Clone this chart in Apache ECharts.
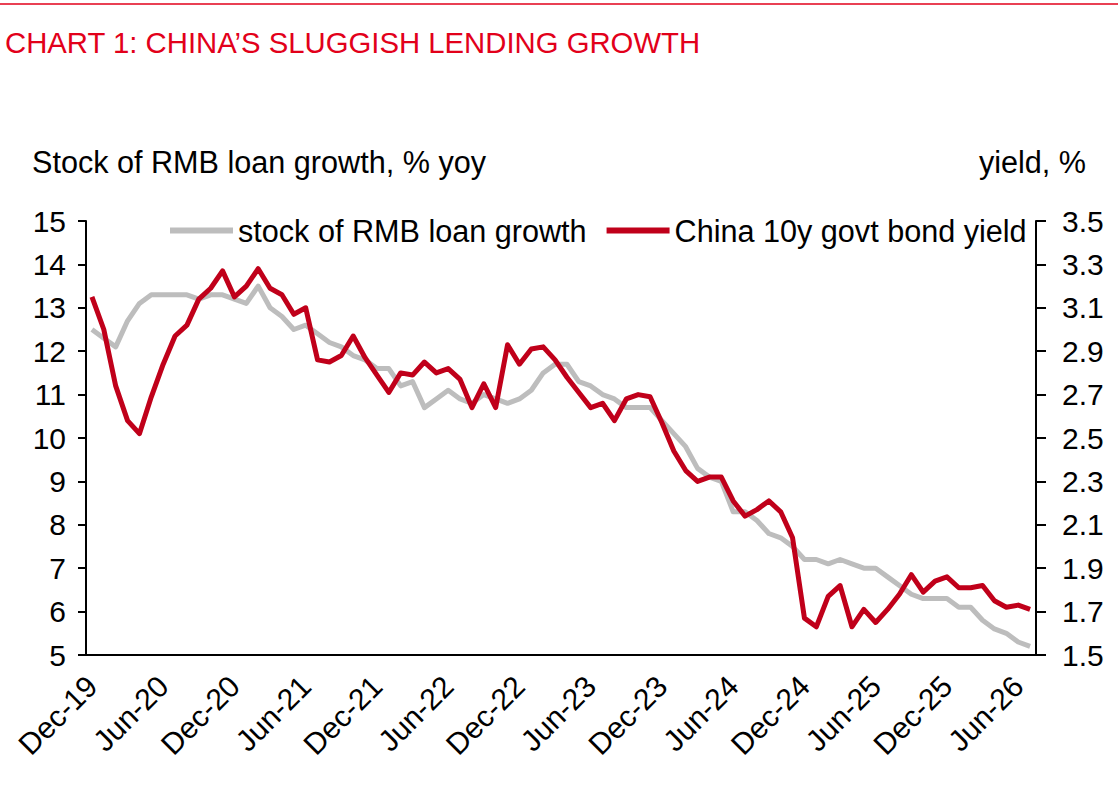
<!DOCTYPE html>
<html style="height: 100%">
  <head>
    <meta charset="utf-8">
  </head>
  <body style="height: 100%; margin: 0; background: #fff">
    <div id="container" style="width: 1118px; height: 795px;"></div>
    <script type="text/javascript" src="https://cdn.jsdelivr.net/npm/echarts@6/dist/echarts.min.js"></script>
    <script type="text/javascript">
    // months shown on the x axis (Dec-19 .. Jul-26)
    var months = ['Dec-19',
      'Jan-20','Feb-20','Mar-20','Apr-20','May-20','Jun-20','Jul-20','Aug-20','Sep-20','Oct-20','Nov-20','Dec-20',
      'Jan-21','Feb-21','Mar-21','Apr-21','May-21','Jun-21','Jul-21','Aug-21','Sep-21','Oct-21','Nov-21','Dec-21',
      'Jan-22','Feb-22','Mar-22','Apr-22','May-22','Jun-22','Jul-22','Aug-22','Sep-22','Oct-22','Nov-22','Dec-22',
      'Jan-23','Feb-23','Mar-23','Apr-23','May-23','Jun-23','Jul-23','Aug-23','Sep-23','Oct-23','Nov-23','Dec-23',
      'Jan-24','Feb-24','Mar-24','Apr-24','May-24','Jun-24','Jul-24','Aug-24','Sep-24','Oct-24','Nov-24','Dec-24',
      'Jan-25','Feb-25','Mar-25','Apr-25','May-25','Jun-25','Jul-25','Aug-25','Sep-25','Oct-25','Nov-25','Dec-25',
      'Jan-26','Feb-26','Mar-26','Apr-26','May-26','Jun-26','Jul-26'];

    // stock of RMB loan growth, % yoy (left axis)
    var loanGrowth = [12.5,
      12.3, 12.1, 12.7, 13.1, 13.3, 13.3, 13.3, 13.3, 13.2, 13.3, 13.3, 13.2,
      13.1, 13.5, 13.0, 12.8, 12.5, 12.6, 12.4, 12.2, 12.1, 11.9, 11.8, 11.6,
      11.6, 11.2, 11.3, 10.7, 10.9, 11.1, 10.9, 10.8, 11.0, 10.9, 10.8, 10.9,
      11.1, 11.5, 11.7, 11.7, 11.3, 11.2, 11.0, 10.9, 10.7, 10.7, 10.7, 10.4,
      10.1, 9.8, 9.3, 9.1, 9.0, 8.3, 8.3, 8.1, 7.8, 7.7, 7.5, 7.2,
      7.2, 7.1, 7.2, 7.1, 7.0, 7.0, 6.8, 6.6, 6.4, 6.3, 6.3, 6.3,
      6.1, 6.1, 5.8, 5.6, 5.5, 5.3, 5.2];

    // China 10y govt bond yield, % (right axis)
    var bondYield = [3.15,
      3.00, 2.74, 2.58, 2.52, 2.69, 2.84, 2.97, 3.02, 3.14, 3.19, 3.27, 3.15,
      3.20, 3.28, 3.19, 3.16, 3.07, 3.10, 2.86, 2.85, 2.88, 2.97, 2.87, 2.79,
      2.71, 2.80, 2.79, 2.85, 2.80, 2.82, 2.77, 2.64, 2.75, 2.64, 2.93, 2.84,
      2.91, 2.92, 2.86, 2.78, 2.71, 2.64, 2.66, 2.58, 2.68, 2.70, 2.69, 2.57,
      2.44, 2.35, 2.30, 2.32, 2.32, 2.21, 2.14, 2.17, 2.21, 2.16, 2.04, 1.67,
      1.63, 1.77, 1.82, 1.63, 1.71, 1.65, 1.71, 1.78, 1.87, 1.79, 1.84, 1.86,
      1.81, 1.81, 1.82, 1.75, 1.72, 1.73, 1.71];

    var font = 'Liberation Sans, Arial, sans-serif';
    var red = '#c0001a';
    var grey = '#bdbdbd';

    var myChart = echarts.init(document.getElementById('container'), null, {renderer: 'svg'});

    var option = {
      backgroundColor: '#fff',
      animation: false,
      textStyle: {fontFamily: font},
      title: {
        text: 'CHART 1: CHINA\u2019S SLUGGISH LENDING GROWTH',
        left: 0,
        top: 23,
        textStyle: {color: '#e2001a', fontSize: 29.3, fontWeight: 'normal', fontFamily: font}
      },
      graphic: [
        {type: 'line', shape: {x1: 0, y1: 4, x2: 1118, y2: 4}, style: {stroke: '#e2001a', lineWidth: 1.5}},
        {type: 'text', style: {text: 'Stock of RMB loan growth, % yoy', x: 32, y: 162,
          font: '30.6px ' + font, fill: '#000', textVerticalAlign: 'middle'}},
        {type: 'text', style: {text: 'yield, %', x: 1086, y: 162,
          font: '30.6px ' + font, fill: '#000', textAlign: 'right', textVerticalAlign: 'middle'}}
      ],
      legend: {
        left: 165,
        top: 210,
        itemWidth: 63,
        itemHeight: 6,
        itemGap: 20,
        textStyle: {fontSize: 30.6, color: '#000', fontFamily: font},
        data: [
          {name: 'stock of RMB loan growth', icon: 'rect'},
          {name: 'China 10y govt bond yield', icon: 'rect'}
        ]
      },
      grid: {left: 86, right: 82, top: 221, bottom: 140},
      xAxis: {
        type: 'category',
        data: months,
        boundaryGap: true,
        axisLine: {lineStyle: {color: '#000', width: 2}},
        axisTick: {interval: 5, length: 8, lineStyle: {color: '#000', width: 2}},
        axisLabel: {interval: 5, rotate: 45, fontSize: 30, color: '#000', margin: 26, fontFamily: font},
        splitLine: {show: false}
      },
      yAxis: [
        {
          type: 'value',
          min: 5,
          max: 15,
          interval: 1,
          axisLine: {show: true, lineStyle: {color: '#000', width: 2}},
          axisTick: {show: true, length: 8, lineStyle: {color: '#000', width: 2}},
          axisLabel: {fontSize: 30, color: '#000', margin: 20, fontFamily: font},
          splitLine: {show: false}
        },
        {
          type: 'value',
          position: 'right',
          min: 1.5,
          max: 3.5,
          interval: 0.2,
          axisLine: {show: true, lineStyle: {color: '#000', width: 2}},
          axisTick: {show: true, length: 10, lineStyle: {color: '#000', width: 2}},
          axisLabel: {fontSize: 30, color: '#000', margin: 26, fontFamily: font,
            formatter: function (v) { return v.toFixed(1); }},
          splitLine: {show: false}
        }
      ],
      series: [
        {
          name: 'stock of RMB loan growth',
          type: 'line',
          yAxisIndex: 0,
          data: loanGrowth,
          showSymbol: false,
          itemStyle: {color: grey},
          lineStyle: {color: grey, width: 5, join: 'round'},
          z: 2
        },
        {
          name: 'China 10y govt bond yield',
          type: 'line',
          yAxisIndex: 1,
          data: bondYield,
          showSymbol: false,
          itemStyle: {color: red},
          lineStyle: {color: red, width: 5, join: 'round'},
          z: 3
        }
      ]
    };

    myChart.setOption(option);
    </script>
  </body>
</html>
